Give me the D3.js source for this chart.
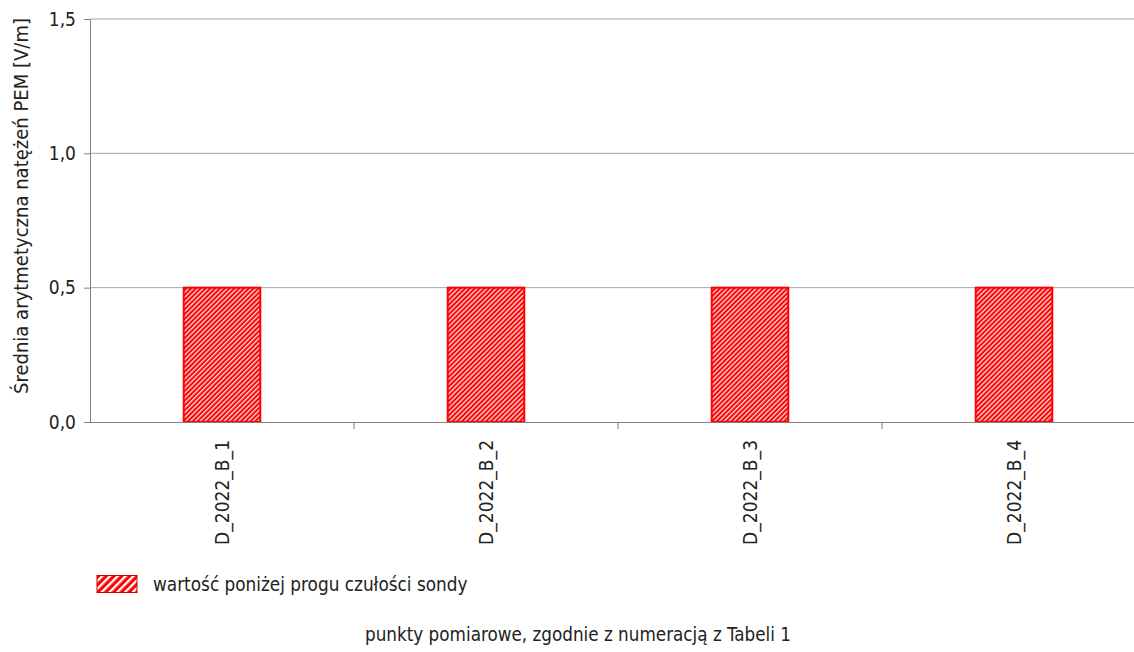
<!DOCTYPE html>
<html><head><meta charset="utf-8">
<script src="https://cdn.jsdelivr.net/npm/d3@7"></script>
<style>
body{margin:0;background:#fff;}
svg{display:block;}
text{font-family:"Liberation Sans Narrow","Arial Narrow","DejaVu Sans Condensed",sans-serif;fill:#222;}
</style></head>
<body>
<svg id="chart" width="1134" height="652"></svg>
<script>
const categories = ["D_2022_B_1","D_2022_B_2","D_2022_B_3","D_2022_B_4"];
const values = [0.5, 0.5, 0.5, 0.5];
const yTicks = [0, 0.5, 1.0, 1.5];
const yTitle = "Średnia arytmetyczna natężeń PEM [V/m]";
const xTitle = "punkty pomiarowe, zgodnie z numeracją z Tabeli 1";
const legendLabel = "wartość poniżej progu czułości sondy";

const FONT = '"Liberation Sans Narrow","Arial Narrow","DejaVu Sans Condensed",sans-serif';
const svg = d3.select("#chart");
const defs = svg.append("defs");
function stripes(id, size, sw, light){
  const p = defs.append("pattern").attr("id", id).attr("patternUnits","userSpaceOnUse")
    .attr("width", size).attr("height", size).attr("patternTransform","rotate(45)");
  p.append("rect").attr("width", size).attr("height", size).attr("fill","#ff0000");
  p.append("rect").attr("x",0).attr("y",0).attr("width", sw).attr("height", size).attr("fill",light);
}
stripes("hatch", 3.4, 1.4, "#f2d6d6");
stripes("hatchL", 5.5, 2.3, "#ffffff");

const x = d3.scaleBand().domain(categories).range([90, 1146]).paddingInner(0.71).paddingOuter(0.355);
const y = d3.scaleLinear().domain([0, 1.5]).range([422, 19]);

// gridlines
svg.append("g").selectAll("line").data(yTicks.filter(d=>d>0)).join("line")
  .attr("x1", 90).attr("x2", 1134).attr("y1", d=>y(d)).attr("y2", d=>y(d))
  .attr("stroke","#a6a6a6").attr("stroke-width",1);

// bars
svg.append("g").selectAll("rect").data(categories).join("rect")
  .attr("x", d=>x(d)).attr("width", x.bandwidth())
  .attr("y", (d,i)=>y(values[i])).attr("height", (d,i)=>y(0)-y(values[i]))
  .attr("fill","url(#hatch)").attr("stroke","#ff0000").attr("stroke-width",2);

// y axis
const yAxis = svg.append("g").attr("transform","translate(90,0)")
  .call(d3.axisLeft(y).tickValues(yTicks).tickSize(6).tickPadding(8)
    .tickFormat(d=>d3.format(".1f")(d).replace(".",",")));
yAxis.select(".domain").attr("stroke","#808080");
yAxis.selectAll(".tick line").attr("stroke","#808080");
yAxis.selectAll("text").attr("font-size",19).attr("fill","#222").style("font-family",FONT);

// x axis
const xAxis = svg.append("g").attr("transform","translate(0,422)")
  .call(d3.axisBottom(x).tickSize(0).tickPadding(0));
xAxis.select(".domain").remove();
svg.append("line").attr("x1",90).attr("x2",1134).attr("y1",422.5).attr("y2",422.5).attr("stroke","#808080");
const bounds = categories.map(c => x(c) - x.step()*x.paddingInner()/2);
svg.append("g").selectAll("line").data(bounds.slice(1)).join("line")
  .attr("x1",d=>d).attr("x2",d=>d).attr("y1",422).attr("y2",429).attr("stroke","#808080");
xAxis.selectAll("text")
  .attr("font-size",19).attr("fill","#222").style("font-family",FONT)
  .attr("text-anchor","end").attr("dy",null)
  .attr("transform","translate(7,18) rotate(-90)");

// y title
svg.append("text").attr("transform","translate(28,206) rotate(-90)")
  .attr("text-anchor","middle").attr("font-size",20).attr("textLength",376).text(yTitle);

// legend
svg.append("rect").attr("x",97).attr("y",575.5).attr("width",40).attr("height",17)
  .attr("fill","url(#hatchL)").attr("stroke","#d00000").attr("stroke-width",1);
svg.append("text").attr("x",153).attr("y",591).attr("font-size",18.8).text(legendLabel);

// x title
svg.append("text").attr("x",578).attr("y",641).attr("text-anchor","middle").attr("font-size",18.7).text(xTitle);
</script>
</body></html>
